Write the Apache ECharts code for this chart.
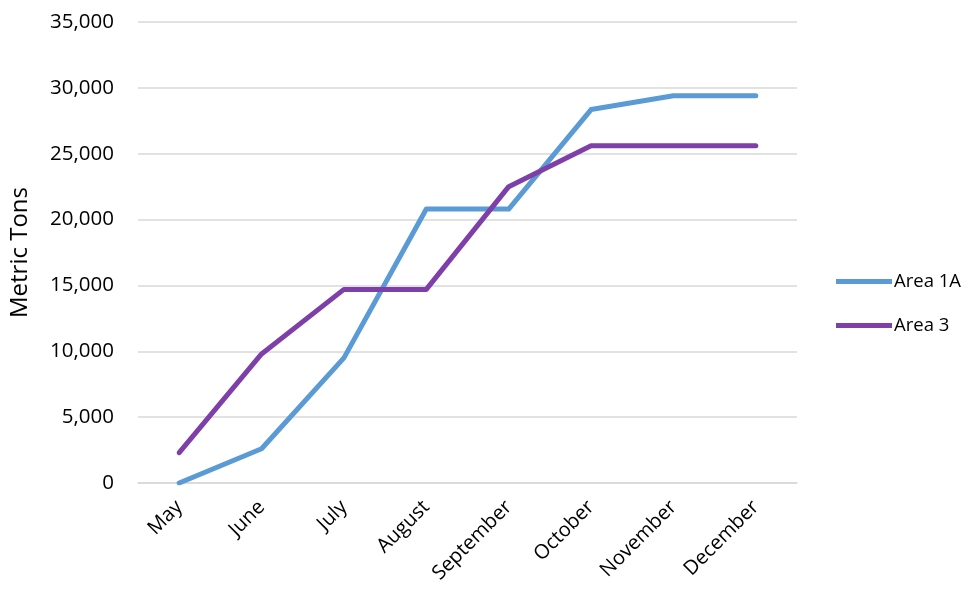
<!DOCTYPE html>
<html>
<head>
<meta charset="utf-8">
<script src="https://cdn.jsdelivr.net/npm/echarts@6/dist/echarts.min.js"></script>
<style>
  html, body { margin: 0; padding: 0; background: #fff; }
  #chart { width: 973px; height: 589px; }
</style>
</head>
<body>
<div id="chart"></div>
<script>
// Monthly cumulative catch, metric tons
const months = ['May', 'June', 'July', 'August', 'September', 'October', 'November', 'December'];
const area1A = [0, 2600, 9500, 20800, 20800, 28350, 29400, 29400];
const area3 = [2300, 9800, 14700, 14700, 22500, 25600, 25600, 25600];
const yTicks = { min: 0, max: 35000, interval: 5000 };

const FONT = '"Open Sans", sans-serif';
const chart = echarts.init(document.getElementById('chart'), null, { renderer: 'canvas' });

const fmt = v => v.toLocaleString('en-US');

chart.setOption({
  animation: false,
  textStyle: { fontFamily: FONT, color: '#000' },
  grid: { left: 134, right: 176, top: 22, bottom: 106, containLabel: false },
  legend: {
    orient: 'vertical',
    left: 831,
    top: 267,
    itemGap: 25,
    itemWidth: 56,
    itemHeight: 5,
    icon: 'rect',
    textStyle: { fontFamily: FONT, fontSize: 18.5, color: '#000', padding: [0, 0, 0, -3] },
    data: ['Area 1A', 'Area 3']
  },
  xAxis: {
    type: 'category',
    data: months,
    boundaryGap: true,
    axisLine: { lineStyle: { color: '#d9d9d9', width: 1.5 } },
    axisTick: { show: false },
    axisLabel: {
      rotate: 45,
      interval: 0,
      margin: 21,
      fontFamily: FONT,
      fontSize: 20,
      color: '#000'
    }
  },
  yAxis: {
    type: 'value',
    min: yTicks.min,
    max: yTicks.max,
    interval: yTicks.interval,
    name: 'Metric Tons',
    nameLocation: 'middle',
    nameGap: 106,
    nameRotate: 90,
    nameTextStyle: { fontFamily: FONT, fontSize: 24, color: '#000' },
    axisLine: { show: false },
    axisTick: { show: false },
    splitLine: { lineStyle: { color: '#d9d9d9', width: 1.5 } },
    axisLabel: {
      margin: 24,
      fontFamily: FONT,
      fontSize: 20.5,
      color: '#000',
      formatter: fmt
    }
  },
  series: [
    {
      name: 'Area 1A',
      type: 'line',
      data: area1A,
      symbol: 'none',
      color: '#5B9BD5',
      lineStyle: { width: 5, color: '#5B9BD5', cap: 'round', join: 'round' }
    },
    {
      name: 'Area 3',
      type: 'line',
      data: area3,
      symbol: 'none',
      color: '#7F3FA8',
      lineStyle: { width: 5, color: '#7F3FA8', cap: 'round', join: 'round' }
    }
  ]
});
</script>
</body>
</html>
